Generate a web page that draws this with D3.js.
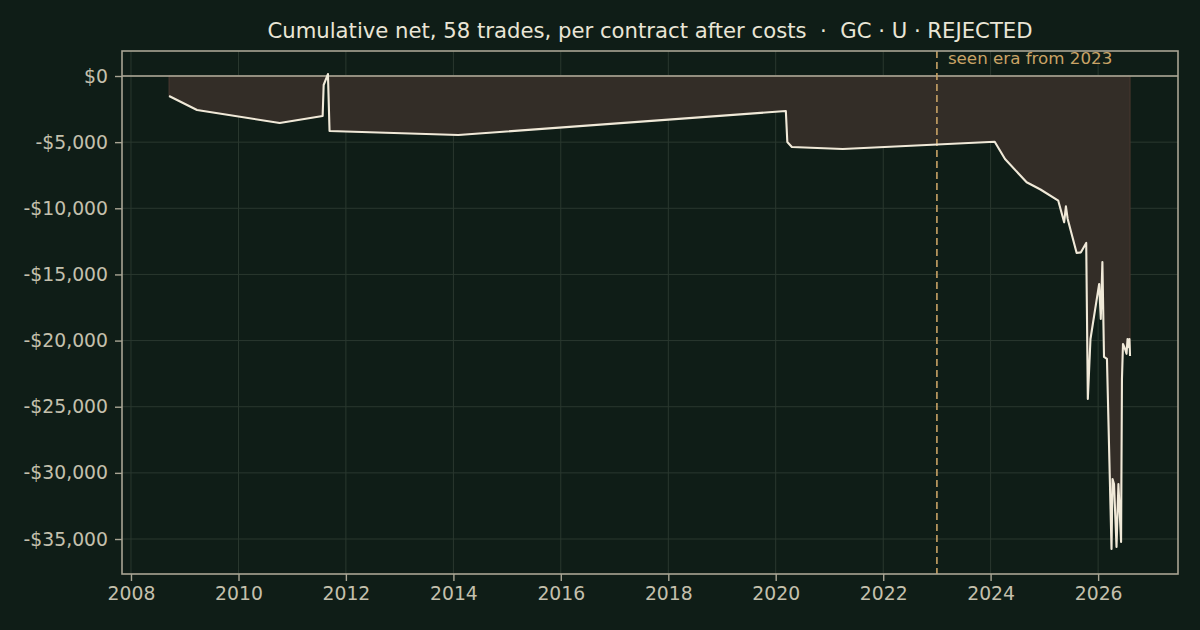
<!DOCTYPE html>
<html>
<head>
<meta charset="utf-8">
<script src="https://cdn.jsdelivr.net/npm/d3@7"></script>
<style>
  html, body { margin: 0; padding: 0; background: #0f1d17; }
  svg { display: block; font-family: "DejaVu Sans", sans-serif; }
</style>
</head>
<body>
<div id="chart"></div>
<script>
// trade close dates and cumulative net per contract (USD)
const tradeDates = [
  "2008-09-16", "2009-03-25", "2010-10-08", "2011-07-27", "2011-08-03",
  "2011-09-01", "2011-09-12", "2014-02-03", "2020-03-10", "2020-03-20",
  "2020-04-20", "2021-04-01", "2024-01-29", "2024-04-08", "2024-09-02",
  "2024-12-05", "2025-04-05", "2025-05-15", "2025-05-27", "2025-06-08",
  "2025-08-08", "2025-09-06", "2025-10-12", "2025-10-23", "2025-11-10",
  "2026-01-08", "2026-01-19", "2026-01-30", "2026-02-10", "2026-03-02",
  "2026-04-02", "2026-04-09", "2026-04-19", "2026-05-06", "2026-05-19",
  "2026-06-06", "2026-06-12", "2026-06-19", "2026-07-03", "2026-07-13",
  "2026-07-20", "2026-07-30", "2026-08-02", "2026-08-06"
];
const cumNet = [
  -1512, -2570, -3553, -3024, -680,
  150, -4158, -4460, -2650, -4990,
  -5370, -5520, -4965, -6274, -8035,
  -8580, -9426, -11060, -9850, -10810,
  -13380, -13330, -12620, -24420, -19880,
  -15720, -18370, -14060, -21240, -21390,
  -35755, -30464, -30842, -35604, -30842,
  -35226, -22900, -20258, -20637, -21000,
  -19880, -20500, -19880, -21166
];
const eraStart = "2023-01-01";
const eraLabel = "seen era from 2023";
const yTicks = [0, -5000, -10000, -15000, -20000, -25000, -30000, -35000];
const titleText = "Cumulative net, 58 trades, per contract after costs  \u00b7  GC \u00b7 U \u00b7 REJECTED";

const W = 1200, H = 630;
const margin = {top: 51, right: 22, bottom: 56, left: 122};
const parse = d3.timeParse("%Y-%m-%d");

const data = tradeDates.map((d, i) => ({date: parse(d), value: cumNet[i]}));

const x = d3.scaleTime()
    .domain([parse("2007-11-01"), parse("2027-06-28")])
    .range([margin.left, W - margin.right]);
const y = d3.scaleLinear()
    .domain([-37645, 1890])
    .range([H - margin.bottom, margin.top]);

const svg = d3.select("#chart").append("svg")
    .attr("width", W)
    .attr("height", H)
    .style("background", "#0f1d17");

const fmtMoney = v => (v < 0 ? "-" : "") + "$" + d3.format(",")(Math.abs(v));

// grid
let grid = svg.append("g").attr("stroke", "#2a382f").attr("stroke-width", 1);
grid.selectAll("line.gx")
    .data(x.ticks(d3.timeYear.every(2)))
    .join("line")
    .attr("x1", d => x(d)).attr("x2", d => x(d))
    .attr("y1", margin.top).attr("y2", H - margin.bottom);
grid.selectAll("line.gy")
    .data(yTicks)
    .join("line")
    .attr("x1", margin.left).attr("x2", W - margin.right)
    .attr("y1", d => y(d)).attr("y2", d => y(d));

// filled drawdown
let area = d3.area()
    .x(d => x(d.date))
    .y0(y(0))
    .y1(d => y(d.value));
svg.append("path")
    .datum(data)
    .attr("d", area)
    .attr("fill", "#332d27")
    .attr("stroke", "#4a3830")
    .attr("stroke-width", 1);

// zero line
svg.append("line")
    .attr("x1", margin.left).attr("x2", W - margin.right)
    .attr("y1", y(0)).attr("y2", y(0))
    .attr("stroke", "#b3ae9c")
    .attr("stroke-width", 1.6);

// era marker
svg.append("line")
    .attr("x1", x(parse(eraStart))).attr("x2", x(parse(eraStart)))
    .attr("y1", margin.top).attr("y2", H - margin.bottom)
    .attr("stroke", "#c9a366")
    .attr("stroke-width", 1.6)
    .attr("stroke-dasharray", "7,4");
svg.append("text")
    .attr("x", x(parse(eraStart)) + 11)
    .attr("y", 64)
    .attr("fill", "#c9a366")
    .style("font-size", "16.7px")
    .text(eraLabel);

// equity line
let line = d3.line()
    .x(d => x(d.date))
    .y(d => y(d.value));
svg.append("path")
    .datum(data)
    .attr("d", line)
    .attr("fill", "none")
    .attr("stroke", "#f0e9d8")
    .attr("stroke-width", 2.1)
    .attr("stroke-linejoin", "round");

// axes
let xAxis = svg.append("g")
    .attr("transform", `translate(0,${H - margin.bottom})`)
    .call(d3.axisBottom(x).ticks(d3.timeYear.every(2)).tickFormat(d3.timeFormat("%Y")).tickSize(7).tickPadding(6));
let yAxis = svg.append("g")
    .attr("transform", `translate(${margin.left},0)`)
    .call(d3.axisLeft(y).tickValues(yTicks).tickFormat(fmtMoney).tickSize(7).tickPadding(7));

[xAxis, yAxis].forEach(g => {
    g.select(".domain").remove();
    g.selectAll(".tick line").attr("stroke", "#a9a594").attr("stroke-width", 1.4);
    g.selectAll(".tick text")
        .attr("fill", "#c4c0ad")
        .style("font-family", "DejaVu Sans")
        .style("font-size", "18.8px");
});

// frame
svg.append("rect")
    .attr("x", margin.left).attr("y", margin.top)
    .attr("width", W - margin.left - margin.right)
    .attr("height", H - margin.top - margin.bottom)
    .attr("fill", "none")
    .attr("stroke", "#a9a594")
    .attr("stroke-width", 1.6);

// title
svg.append("text")
    .attr("x", (margin.left + W - margin.right) / 2)
    .attr("y", 38)
    .attr("text-anchor", "middle")
    .attr("fill", "#e9e5d6")
    .style("font-size", "21.2px")
    .style("white-space", "pre")
    .attr("xml:space", "preserve")
    .text(titleText);
</script>
</body>
</html>
